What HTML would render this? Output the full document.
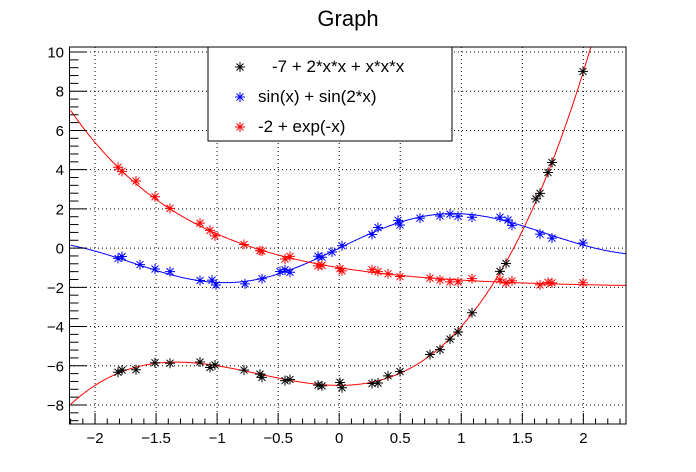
<!DOCTYPE html>
<html><head><meta charset="utf-8"><style>
html,body{margin:0;padding:0;background:#fff;}
svg{display:block;font-family:"Liberation Sans",Arial,sans-serif;}
</style></head><body>
<svg id="s" width="696" height="472" viewBox="0 0 696 472" xmlns="http://www.w3.org/2000/svg">
<rect width="696" height="472" fill="#fff"/>
<text x="348" y="26" font-size="22" text-anchor="middle">Graph</text>
<g id="grid" stroke="#000" stroke-width="1" stroke-dasharray="1,3"></g>
<defs><clipPath id="c"><rect x="70" y="47" width="556" height="377"/></clipPath></defs>
<g id="curves" clip-path="url(#c)" fill="none" stroke-width="1"></g>
<g id="pts" stroke-width="1"></g>
<rect x="69.5" y="47" width="556.5" height="377" fill="none" stroke="#000" stroke-width="1"/>
<g id="ticks" stroke="#000" stroke-width="1"></g>
<g id="labels" font-size="15"></g>
<rect x="208" y="47" width="244" height="94" fill="#fff" stroke="#000" stroke-width="1"/>
<g id="leg"></g>
<text x="272" y="72" font-size="17">-7 + 2*x*x + x*x*x</text>
<text x="258" y="102" font-size="17">sin(x) + sin(2*x)</text>
<text x="258" y="132" font-size="17">-2 + exp(-x)</text>
</svg>
<script>
var NS="http://www.w3.org/2000/svg";
function el(p,t,a){var e=document.createElementNS(NS,t);for(var k in a)e.setAttribute(k,a[k]);document.getElementById(p).appendChild(e);return e;}
var X0=339.2,SX=122.08,Y0=248.1,SY=19.61;
function px(x){return X0+x*SX;} function py(y){return Y0-y*SY;}
[-2,-1.5,-1,-0.5,0,0.5,1,1.5,2].forEach(function(v){el("grid","line",{x1:px(v),x2:px(v),y1:47,y2:424});});
[-8,-6,-4,-2,0,2,4,6,8,10].forEach(function(v){el("grid","line",{x1:70,x2:626,y1:py(v),y2:py(v)});});
for(var i=-22;i<=23;i++){var v=i/10,x=px(v);if(x<70||x>626)continue;var maj=(i%5==0);el("ticks","line",{x1:x,x2:x,y1:424,y2:424-(maj?11:5.5)});}
[-2,-1.5,-1,-0.5,0,0.5,1,1.5,2].forEach(function(v){var t=el("labels","text",{x:px(v),y:443,"text-anchor":"middle"});t.textContent=(v<0?"\u2212":"")+Math.abs(v);});
for(var i=-45;i<=26;i++){var v=i*0.4,y=py(v);if(y<47||y>424)continue;var maj=(i%5==0);el("ticks","line",{x1:70,x2:70+(maj?17:8.5),y1:y,y2:y});}
[-8,-6,-4,-2,0,2,4,6,8,10].forEach(function(v){var t=el("labels","text",{x:64,y:py(v)+5.5,"text-anchor":"end"});t.textContent=(v<0?"\u2212":"")+Math.abs(v);});
var fs=[function(x){return -7+2*x*x+x*x*x;},function(x){return Math.sin(x)+Math.sin(2*x);},function(x){return -2+Math.exp(-x);}];
var cols=["#000","#00f","#f00"];
var ccol=["#f00","#00f","#f00"];
fs.forEach(function(f,k){var d="";for(var x=-2.2;x<=2.36;x+=0.01){d+=(d?"L":"M")+px(x).toFixed(1)+","+py(f(x)).toFixed(1);}el("curves","path",{d:d,stroke:ccol[k]});});
function star(g,x,y,c,r){r=r||5;var d="M"+(x-r)+","+y+"h"+2*r+"M"+x+","+(y-r)+"v"+2*r+"M"+(x-r*0.7)+","+(y-r*0.7)+"l"+1.4*r+","+1.4*r+"M"+(x-r*0.7)+","+(y+r*0.7)+"l"+1.4*r+","+(-1.4*r);el(g,"path",{d:d,stroke:c,fill:"none"});}
var P=[[118,122,136,155,170,200,210,215,244,260,262,285,290,318,322,340,342,372,378,388,400,430,440,450,458,472,500,506,536,540,548,552,583],
[118,122,140,155,170,200,212,216,245,262,280,285,290,318,322,332,342,372,378,398,400,420,440,450,458,472,500,508,512,540,552,583],
[118,122,136,155,170,200,210,215,244,260,262,285,290,318,322,340,342,372,378,388,400,430,440,450,458,472,500,506,512,540,548,552,583]];
var seed=3;function rnd(){seed=(seed*9301+49297)%233280;return seed/233280-0.5;}
P.forEach(function(arr,k){arr.forEach(function(p){var x=(p-X0)/SX;var y=py(fs[k](x))+rnd()*6;if(y>47&&y<424)star("pts",p,y,cols[k]);});});
star("leg",240,67,"#000");star("leg",240,97,"#00f");star("leg",240,127,"#f00");
</script>
</body></html>
